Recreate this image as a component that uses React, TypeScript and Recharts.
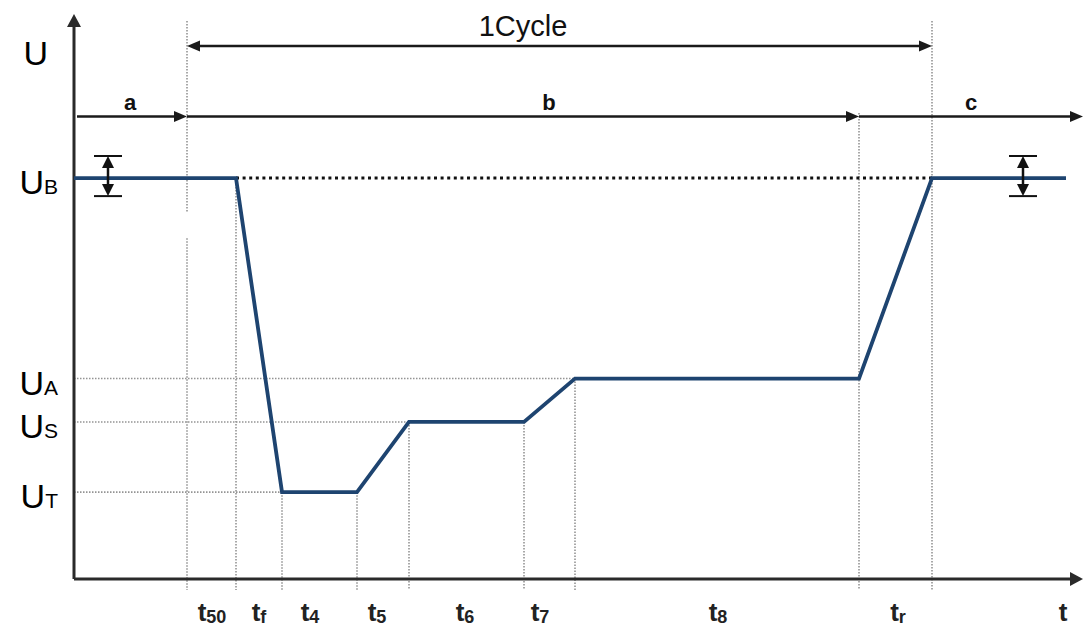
import React from 'react';
import { ComposedChart, Line, XAxis, YAxis, ReferenceLine, ReferenceDot } from 'recharts';

// profile (time in arbitrary units, voltage in V)
const profileTimes = [0, 16.2, 20.8, 28.3, 33.5, 45, 50.1, 78.5, 85.8, 99.2];
const profileVolts = [12, 12, 2.6, 2.6, 4.7, 4.7, 6, 6, 12, 12];

// voltage levels (y tick labels)
const levelSubs = ['T', 'S', 'A', 'B', ''];
const levelValues = [2.6, 4.7, 6, 12, 15.86];

// phase boundaries
const boundaryTimes = [11.3, 16.2, 20.8, 28.3, 33.5, 45, 50.1, 78.5, 85.8];
const boundaryTops = [16.7, 12, 2.6, 2.6, 4.7, 4.7, 6, 13.95, 16.7];

// phase labels (x tick labels)
const phaseSubs = ['50', 'f', '4', '5', '6', '7', '8', 'r', ''];
const phasePos = [13.8, 18.5, 23.6, 30.3, 39.1, 46.6, 64.4, 82.4, 98.9];

// dimension arrows
const cycleStart = 11.3;
const cycleEnd = 85.8;
const cycleLevel = 15.95;
const segLevel = 13.84;
const segBounds = [0, 11.3, 78.5, 100.9];
const segNames = ['a', 'b', 'c'];
const segLabelPos = [5.6, 47.5, 89.7];
const tolCenters = [3.4, 94.9];
const tolTop = 12.66;
const tolBottom = 11.46;

const FONT = 'Liberation Sans, Arial, Helvetica, sans-serif';
const data = profileTimes.map((t, i) => ({ t, u: profileVolts[i] }));

function makeArrow(start: boolean, end: boolean, color: string, sw: number, len: number, half: number) {
  return (p: any) => {
    const { x1, y1, x2, y2 } = p;
    const dx = x2 - x1;
    const dy = y2 - y1;
    const L = Math.hypot(dx, dy) || 1;
    const ux = dx / L;
    const uy = dy / L;
    const nx = -uy;
    const ny = ux;
    const sx = start ? x1 + ux * len * 0.7 : x1;
    const sy = start ? y1 + uy * len * 0.7 : y1;
    const ex = end ? x2 - ux * len * 0.7 : x2;
    const ey = end ? y2 - uy * len * 0.7 : y2;
    const head = (tx: number, ty: number, dxu: number, dyu: number) => {
      const bx = tx - dxu * len;
      const by = ty - dyu * len;
      return `${tx},${ty} ${bx + nx * half},${by + ny * half} ${bx - nx * half},${by - ny * half}`;
    };
    return (
      <g>
        <line x1={sx} y1={sy} x2={ex} y2={ey} stroke={color} strokeWidth={sw} />
        {start && <polygon points={head(x1, y1, -ux, -uy)} fill={color} />}
        {end && <polygon points={head(x2, y2, ux, uy)} fill={color} />}
      </g>
    );
  };
}

const YTick = (p: any) => {
  const i = levelValues.indexOf(p.payload.value);
  const sub = levelSubs[i];
  return (
    <text x={sub ? p.x : p.x - 10} y={p.y + 16} textAnchor="end" fontFamily={FONT} fontSize={34} fill="#000">
      U{sub ? <tspan fontSize={21}>{sub}</tspan> : null}
    </text>
  );
};

const XTick = (p: any) => {
  const i = phasePos.indexOf(p.payload.value);
  const sub = phaseSubs[i];
  return (
    <text x={p.x} y={p.y + 34} textAnchor="middle" fontFamily={FONT} fontWeight="bold" fontSize={26} fill="#222">
      t{sub ? <tspan fontSize={18} dy={2}>{sub}</tspan> : null}
    </text>
  );
};

const textShape = (label: string, size: number, weight: string) => (p: any) => (
  <text x={p.cx} y={p.cy} textAnchor="middle" fontFamily={FONT} fontSize={size} fontWeight={weight} fill="#111">
    {label}
  </text>
);

const dot = { stroke: '#949494', strokeWidth: 1.6, strokeDasharray: '1.5 1.5' };

export default function App() {
  const arrowBlack = makeArrow(false, true, '#1a1a1a', 2.5, 13, 5.5);
  const arrowBoth = makeArrow(true, true, '#1a1a1a', 2.5, 13, 5.5);
  const axisArrow = makeArrow(false, true, '#2a2a2a', 3, 13, 7);
  const tolArrow = makeArrow(true, true, '#111', 2.5, 12, 6);
  return (
    <div style={{ position: 'absolute', left: 0, top: 0, width: 1086, height: 630, background: '#fff' }}>
      <ComposedChart width={1086} height={630} data={data} margin={{ top: 11, right: 2, bottom: 21, left: 14 }}>
        <XAxis
          dataKey="t"
          type="number"
          domain={[0, 101]}
          ticks={phasePos}
          interval={0}
          axisLine={false}
          tickLine={false}
          tick={<XTick />}
          height={30}
          allowDataOverflow
        />
        <YAxis
          type="number"
          domain={[0, 17]}
          ticks={levelValues}
          interval={0}
          axisLine={false}
          tickLine={false}
          tick={<YTick />}
          width={60}
          tickMargin={10}
          allowDataOverflow
        />
        {/* vertical dotted boundaries */}
        {boundaryTimes.map((t, i) =>
          i === 0 ? (
            <React.Fragment key={'b' + i}>
              <ReferenceLine segment={[{ x: t, y: boundaryTops[i] }, { x: t, y: 11.0 }]} ifOverflow="visible" {...dot} />
              <ReferenceLine segment={[{ x: t, y: 10.2 }, { x: t, y: -0.33 }]} ifOverflow="visible" {...dot} />
            </React.Fragment>
          ) : (
            <ReferenceLine key={'b' + i} segment={[{ x: t, y: boundaryTops[i] }, { x: t, y: -0.33 }]} ifOverflow="visible" {...dot} />
          )
        )}
        {/* horizontal dotted levels */}
        <ReferenceLine segment={[{ x: 0, y: levelValues[2] }, { x: boundaryTimes[6], y: levelValues[2] }]} {...dot} />
        <ReferenceLine segment={[{ x: 0, y: levelValues[1] }, { x: boundaryTimes[4], y: levelValues[1] }]} {...dot} />
        <ReferenceLine segment={[{ x: 0, y: levelValues[0] }, { x: boundaryTimes[2], y: levelValues[0] }]} {...dot} />
        <ReferenceLine
          segment={[{ x: boundaryTimes[1], y: levelValues[3] }, { x: boundaryTimes[8], y: levelValues[3] }]}
          stroke="#111"
          strokeWidth={3}
          strokeDasharray="3 3.6"
        />
        {/* axes */}
        <ReferenceLine segment={[{ x: 0, y: 0 }, { x: 0, y: 16.91 }]} ifOverflow="visible" shape={axisArrow} />
        <ReferenceLine segment={[{ x: 0, y: 0 }, { x: 100.9, y: 0 }]} ifOverflow="visible" shape={axisArrow} />
        {/* profile */}
        <Line dataKey="u" type="linear" stroke="#1e4470" strokeWidth={3.8} dot={false} isAnimationActive={false} />
        {/* dimension arrows */}
        <ReferenceLine segment={[{ x: cycleStart, y: cycleLevel }, { x: cycleEnd, y: cycleLevel }]} ifOverflow="visible" shape={arrowBoth} />
        {segNames.map((n, i) => (
          <ReferenceLine
            key={'s' + n}
            segment={[{ x: segBounds[i] + (i === 0 ? 0.3 : 0), y: segLevel }, { x: segBounds[i + 1], y: segLevel }]}
            ifOverflow="visible"
            shape={arrowBlack}
          />
        ))}
        {segNames.map((n, i) => (
          <ReferenceDot key={'l' + n} x={segLabelPos[i]} y={14.04} r={0} ifOverflow="visible" shape={textShape(n, 22, 'bold')} />
        ))}
        <ReferenceDot x={44.9} y={16.25} r={0} ifOverflow="visible" shape={textShape('1Cycle', 29, 'normal')} />
        {/* tolerance markers */}
        {tolCenters.map((c, i) => (
          <React.Fragment key={'tol' + i}>
            <ReferenceLine segment={[{ x: c - 1.4, y: tolTop }, { x: c + 1.4, y: tolTop }]} stroke="#111" strokeWidth={2} />
            <ReferenceLine segment={[{ x: c - 1.4, y: tolBottom }, { x: c + 1.4, y: tolBottom }]} stroke="#111" strokeWidth={2} />
            <ReferenceLine segment={[{ x: c, y: tolTop }, { x: c, y: tolBottom }]} shape={tolArrow} />
          </React.Fragment>
        ))}
      </ComposedChart>
    </div>
  );
}
